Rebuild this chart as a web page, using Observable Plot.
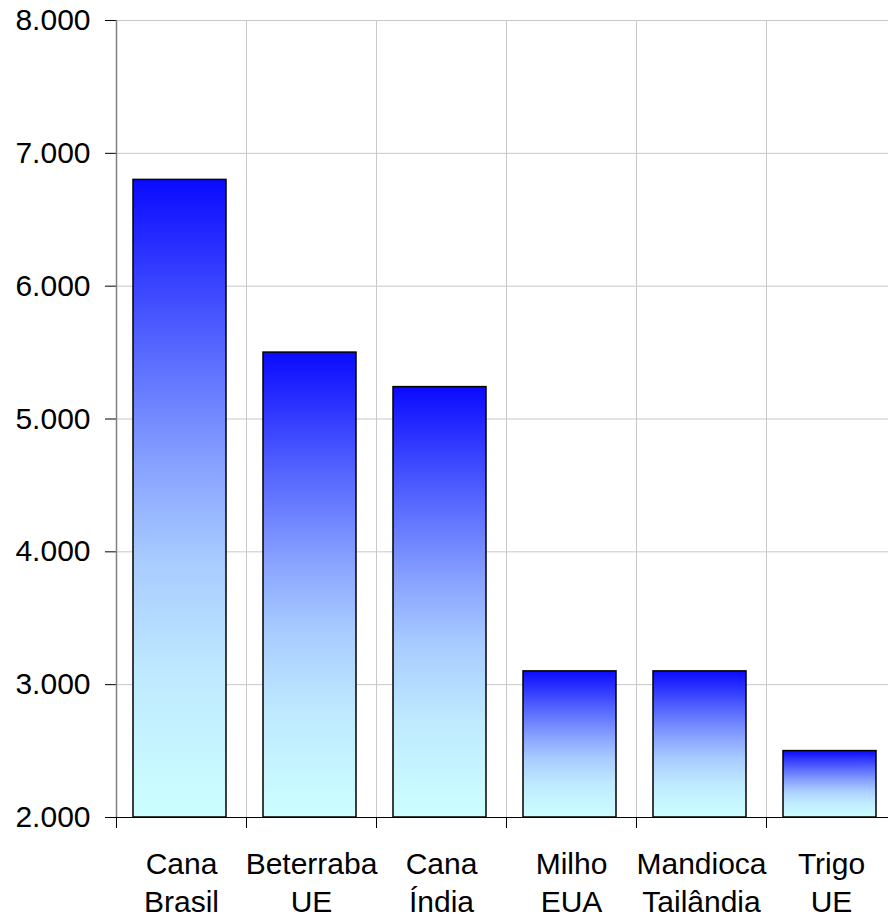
<!DOCTYPE html>
<html>
<head>
<meta charset="utf-8">
<script src="https://cdn.jsdelivr.net/npm/d3@7"></script>
<script src="https://cdn.jsdelivr.net/npm/@observablehq/plot@0.6"></script>
<style>
  html, body { margin: 0; padding: 0; background: #fff; }
  #chart svg { display: block; }
</style>
</head>
<body>
<div id="chart"></div>
<script>
const categories = ["Cana\nBrasil", "Beterraba\nUE", "Cana\nÍndia", "Milho\nEUA", "Mandioca\nTailândia", "Trigo\nUE"];
const values = [6800, 5500, 5240, 3100, 3100, 2500];
const yTicks = [2000, 3000, 4000, 5000, 6000, 7000, 8000];
const yDomain = [2000, 8000];

const data = categories.map((c, i) => ({ label: c, i, value: values[i] }));
const boundaries = d3.range(categories.length + 1);
const centers = categories.map((c, i) => i + 0.5);

const ptBR = d3.formatLocale({ decimal: ",", thousands: ".", grouping: [3], currency: ["R$", ""] });
const fmt = ptBR.format(",d");

const chart = Plot.plot({
  width: 888,
  height: 920,
  marginLeft: 116,
  marginRight: -8,
  marginTop: 20,
  marginBottom: 103,
  style: { fontFamily: "'Liberation Sans', Arial, sans-serif", fontSize: "30px", background: "#fff", color: "#000" },
  x: { domain: [0, categories.length], axis: null },
  y: { domain: yDomain, axis: null },
  marks: [
    Plot.ruleY(yTicks.filter(t => t > yDomain[0]), { stroke: "#c8c8c8", strokeWidth: 1, strokeOpacity: 1 }),
    Plot.ruleX(boundaries.slice(1), { stroke: "#c8c8c8", strokeWidth: 1, strokeOpacity: 1 }),
    Plot.rectY(data, {
      x1: d => d.i, x2: d => d.i + 1, y1: yDomain[0], y2: "value",
      insetLeft: 17, insetRight: 20,
      fill: "#6680ff", stroke: "#000", strokeWidth: 1.5
    }),
    Plot.axisY({ ticks: yTicks, tickFormat: fmt, tickSize: 11, tickPadding: 15, fontSize: 30, stroke: "#000", label: null }),
    Plot.ruleX([0], { stroke: "#808080", strokeWidth: 1.5 }),
    Plot.ruleY([yDomain[0]], { stroke: "#000", strokeWidth: 1.2 }),
    Plot.axisX({ ticks: boundaries.slice(0, categories.length), tickSize: 11, tickFormat: () => "", stroke: "#000", label: null }),
    Plot.axisX({ ticks: centers, tickSize: 0, tickPadding: 30, tickFormat: (d) => categories[Math.floor(d)], fontSize: 30, lineHeight: 1.25, label: null })
  ]
});

// per-bar vertical gradient
const ns = "http://www.w3.org/2000/svg";
const defs = document.createElementNS(ns, "defs");
const grad = document.createElementNS(ns, "linearGradient");
grad.setAttribute("id", "barGrad");
grad.setAttribute("x1", "0"); grad.setAttribute("y1", "0");
grad.setAttribute("x2", "0"); grad.setAttribute("y2", "1");
[["0%", "#0a0aff"], ["25%", "#5262ff"], ["45%", "#88a2ff"], ["60%", "#a8ccff"], ["78%", "#bfeaff"], ["100%", "#ccffff"]].forEach(([o, c]) => {
  const s = document.createElementNS(ns, "stop");
  s.setAttribute("offset", o); s.setAttribute("stop-color", c);
  grad.appendChild(s);
});
defs.appendChild(grad);
chart.insertBefore(defs, chart.firstChild);
chart.querySelectorAll("rect").forEach(r => {
  const p = r.parentNode;
  if (p && p.getAttribute && p.getAttribute("fill") && p.getAttribute("fill").toLowerCase() === "#6680ff") p.setAttribute("fill", "url(#barGrad)");
  if (r.getAttribute("fill") && r.getAttribute("fill").toLowerCase() === "#6680ff") r.setAttribute("fill", "url(#barGrad)");
});

document.getElementById("chart").appendChild(chart);
</script>
</body>
</html>
